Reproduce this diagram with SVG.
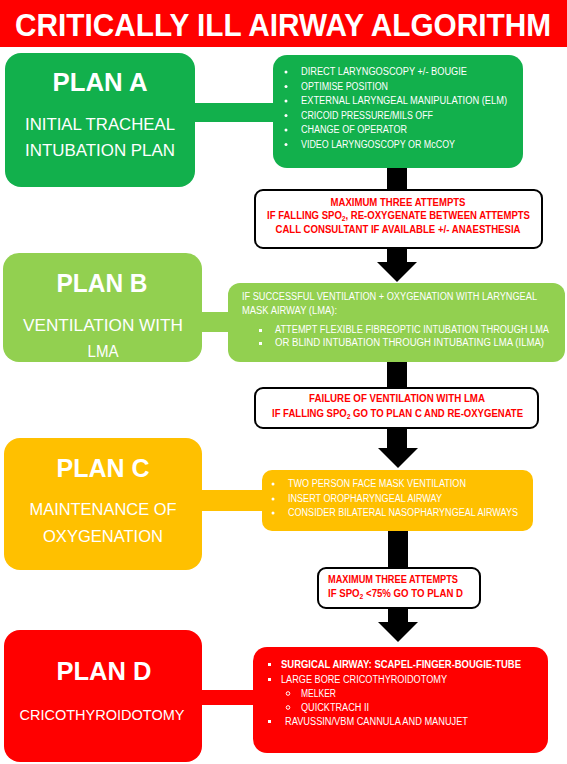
<svg xmlns="http://www.w3.org/2000/svg" width="567" height="764" viewBox="0 0 567 764">
<style>
text{font-family:"Liberation Sans",Arial,sans-serif;}
.title{font-size:32px;font-weight:bold;fill:#fff;}
.h{font-size:26px;font-weight:bold;fill:#fff;text-anchor:middle;}
.s{font-size:17px;fill:#fff;text-anchor:middle;}
.b{font-size:10px;fill:#fff;}
.n{font-size:10px;font-weight:bold;fill:#ff0000;text-anchor:middle;}
.nl{font-size:10px;font-weight:bold;fill:#ff0000;}
.note{fill:#fff;stroke:#000;stroke-width:2;}
.sub{font-size:7px;}
</style>
<rect x="0" y="0" width="567" height="47" fill="#ff0000"/>
<text class="title" x="283" y="36" text-anchor="middle" textLength="536" lengthAdjust="spacingAndGlyphs">CRITICALLY ILL AIRWAY ALGORITHM</text>

<g id="connectors">
  <rect x="190" y="103" width="90" height="19" fill="#12b04c"/>
  <rect x="197" y="312" width="36" height="20" fill="#92d050"/>
  <rect x="197" y="490" width="70" height="21" fill="#ffc000"/>
  <rect x="197" y="690" width="60" height="15" fill="#ff0000"/>
  <rect x="387" y="167" width="20" height="24" fill="#000"/>
  <polygon points="387,247 407,247 407,262 417,262 397,282 377,262 387,262" fill="#000"/>
  <rect x="387" y="361" width="20" height="28" fill="#000"/>
  <polygon points="387,427 407,427 407,448 418,448 398,468 378,448 387,448" fill="#000"/>
  <rect x="388" y="530" width="20" height="39" fill="#000"/>
  <polygon points="388,607 408,607 408,622 418,622 398,642 378,622 388,622" fill="#000"/>
</g>

<g id="planA">
  <rect x="5" y="53" width="190" height="134" rx="16" fill="#12b04c"/>
  <text class="h" x="100" y="91" textLength="95" lengthAdjust="spacingAndGlyphs">PLAN A</text>
  <text class="s" x="100" y="130" textLength="150" lengthAdjust="spacingAndGlyphs">INITIAL TRACHEAL</text>
  <text class="s" x="100" y="156" textLength="150" lengthAdjust="spacingAndGlyphs">INTUBATION PLAN</text>
</g>
<g id="planA-actions">
  <rect x="273" y="55" width="250" height="113" rx="14" fill="#12b04c"/>
  <circle cx="286" cy="72" r="1.5" fill="#fff"/><text class="b" x="301" y="75" textLength="166" lengthAdjust="spacingAndGlyphs">DIRECT LARYNGOSCOPY +/- BOUGIE</text>
  <circle cx="286" cy="86.5" r="1.5" fill="#fff"/><text class="b" x="301" y="89.5" textLength="87" lengthAdjust="spacingAndGlyphs">OPTIMISE POSITION</text>
  <circle cx="286" cy="101" r="1.5" fill="#fff"/><text class="b" x="301" y="104" textLength="206" lengthAdjust="spacingAndGlyphs">EXTERNAL LARYNGEAL MANIPULATION (ELM)</text>
  <circle cx="286" cy="115.5" r="1.5" fill="#fff"/><text class="b" x="301" y="118.5" textLength="132" lengthAdjust="spacingAndGlyphs">CRICOID PRESSURE/MILS OFF</text>
  <circle cx="286" cy="130" r="1.5" fill="#fff"/><text class="b" x="301" y="133" textLength="106" lengthAdjust="spacingAndGlyphs">CHANGE OF OPERATOR</text>
  <circle cx="286" cy="144.5" r="1.5" fill="#fff"/><text class="b" x="301" y="147.5" textLength="154" lengthAdjust="spacingAndGlyphs">VIDEO LARYNGOSCOPY OR McCOY</text>
</g>
<g id="note1">
  <rect class="note" x="255" y="190" width="287" height="58" rx="8"/>
  <text class="n" x="398" y="206" textLength="135" lengthAdjust="spacingAndGlyphs">MAXIMUM THREE ATTEMPTS</text>
  <text class="nl" x="267" y="219" textLength="263" lengthAdjust="spacingAndGlyphs">IF FALLING SPO<tspan class="sub" baseline-shift="-2">2</tspan>, RE-OXYGENATE BETWEEN ATTEMPTS</text>
  <text class="n" x="398" y="233" textLength="245" lengthAdjust="spacingAndGlyphs">CALL CONSULTANT IF AVAILABLE +/- ANAESTHESIA</text>
</g>

<g id="planB">
  <rect x="3" y="253" width="199" height="109" rx="16" fill="#92d050"/>
  <text class="h" x="102" y="292" textLength="91" lengthAdjust="spacingAndGlyphs">PLAN B</text>
  <text class="s" x="103" y="331" textLength="160" lengthAdjust="spacingAndGlyphs">VENTILATION WITH</text>
  <text class="s" x="103" y="357" textLength="31" lengthAdjust="spacingAndGlyphs">LMA</text>
</g>
<g id="planB-actions">
  <rect x="228" y="283" width="337" height="79" rx="12" fill="#92d050"/>
  <text class="b" x="242" y="300" textLength="295" lengthAdjust="spacingAndGlyphs">IF SUCCESSFUL VENTILATION + OXYGENATION WITH LARYNGEAL</text>
  <text class="b" x="242" y="314" textLength="95" lengthAdjust="spacingAndGlyphs">MASK AIRWAY (LMA):</text>
  <rect x="259" y="329" width="3" height="3" fill="#fff"/><text class="b" x="275" y="333" textLength="274" lengthAdjust="spacingAndGlyphs">ATTEMPT FLEXIBLE FIBREOPTIC INTUBATION THROUGH LMA</text>
  <rect x="259" y="342" width="3" height="3" fill="#fff"/><text class="b" x="275" y="346" textLength="269" lengthAdjust="spacingAndGlyphs">OR  BLIND INTUBATION THROUGH INTUBATING LMA (ILMA)</text>
</g>
<g id="note2">
  <rect class="note" x="255" y="388" width="283" height="40" rx="8"/>
  <text class="n" x="397" y="402" textLength="176" lengthAdjust="spacingAndGlyphs">FAILURE OF VENTILATION WITH LMA</text>
  <text class="nl" x="272" y="417" textLength="251" lengthAdjust="spacingAndGlyphs">IF FALLING SPO<tspan class="sub" baseline-shift="-2">2</tspan> GO TO PLAN C AND RE-OXYGENATE</text>
</g>

<g id="planC">
  <rect x="4" y="438" width="198" height="132" rx="16" fill="#ffc000"/>
  <text class="h" x="103" y="477" textLength="93" lengthAdjust="spacingAndGlyphs">PLAN C</text>
  <text class="s" x="103" y="515" textLength="147" lengthAdjust="spacingAndGlyphs">MAINTENANCE OF</text>
  <text class="s" x="103" y="542" textLength="120" lengthAdjust="spacingAndGlyphs">OXYGENATION</text>
</g>
<g id="planC-actions">
  <rect x="262" y="470" width="271" height="61" rx="10" fill="#ffc000"/>
  <circle cx="273" cy="484" r="1.5" fill="#fff"/><text class="b" x="288" y="487" textLength="178" lengthAdjust="spacingAndGlyphs">TWO PERSON FACE MASK VENTILATION</text>
  <circle cx="273" cy="499" r="1.5" fill="#fff"/><text class="b" x="288" y="502" textLength="154" lengthAdjust="spacingAndGlyphs">INSERT OROPHARYNGEAL AIRWAY</text>
  <circle cx="273" cy="513" r="1.5" fill="#fff"/><text class="b" x="288" y="516" textLength="230" lengthAdjust="spacingAndGlyphs">CONSIDER BILATERAL NASOPHARYNGEAL AIRWAYS</text>
</g>
<g id="note3">
  <rect class="note" x="318" y="568" width="162" height="40" rx="8"/>
  <text class="nl" x="328" y="583" textLength="130" lengthAdjust="spacingAndGlyphs">MAXIMUM THREE ATTEMPTS</text>
  <text class="nl" x="328" y="597" textLength="135" lengthAdjust="spacingAndGlyphs">IF SPO<tspan class="sub" baseline-shift="-2">2</tspan> &lt;75% GO TO PLAN D</text>
</g>

<g id="planD">
  <rect x="4" y="630" width="198" height="132" rx="16" fill="#ff0000"/>
  <text class="h" x="104" y="680" textLength="95" lengthAdjust="spacingAndGlyphs">PLAN D</text>
  <text class="s" x="102" y="720" style="font-size:15px" textLength="165" lengthAdjust="spacingAndGlyphs">CRICOTHYROIDOTOMY</text>
</g>
<g id="planD-actions">
  <rect x="253" y="647" width="295" height="106" rx="14" fill="#ff0000"/>
  <rect x="268" y="663" width="3" height="3" fill="#fff"/><text class="b" x="281" y="668" font-weight="bold" textLength="240" lengthAdjust="spacingAndGlyphs">SURGICAL AIRWAY: SCAPEL-FINGER-BOUGIE-TUBE</text>
  <rect x="268" y="678" width="3" height="3" fill="#fff"/><text class="b" x="281" y="683" textLength="166" lengthAdjust="spacingAndGlyphs">LARGE BORE  CRICOTHYROIDOTOMY</text>
  <circle cx="288" cy="693.5" r="1.8" fill="none" stroke="#fff" stroke-width="1"/><text class="b" x="301" y="697" textLength="35" lengthAdjust="spacingAndGlyphs">MELKER</text>
  <circle cx="288" cy="707.5" r="1.8" fill="none" stroke="#fff" stroke-width="1"/><text class="b" x="301" y="711" textLength="68" lengthAdjust="spacingAndGlyphs">QUICKTRACH II</text>
  <rect x="268" y="720" width="3" height="3" fill="#fff"/><text class="b" x="285" y="725" textLength="183" lengthAdjust="spacingAndGlyphs">RAVUSSIN/VBM CANNULA AND MANUJET</text>
</g>
</svg>
